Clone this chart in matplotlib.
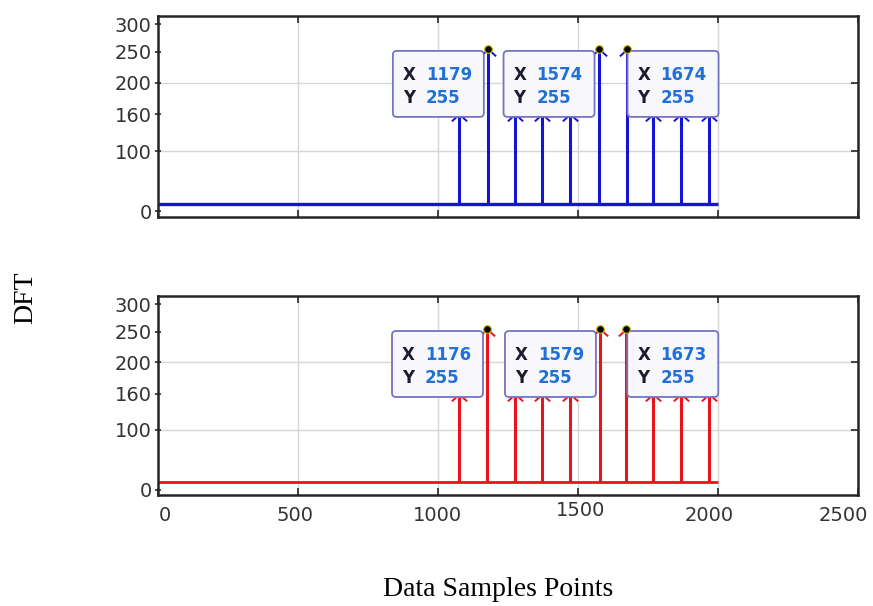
import numpy as np
import matplotlib
matplotlib.use("Agg")
import matplotlib.pyplot as plt
from matplotlib.patches import FancyBboxPatch
from matplotlib.transforms import IdentityTransform, ScaledTranslation

# ---------------- data ----------------
top_x = [1077, 1179, 1276, 1374, 1472, 1574, 1674, 1770, 1868, 1968]
top_y = [160, 255, 160, 160, 160, 255, 255, 160, 160, 160]
bot_x = [1077, 1176, 1276, 1374, 1472, 1579, 1673, 1770, 1868, 1968]
bot_y = [160, 255, 160, 160, 160, 255, 255, 160, 160, 160]
baseline_level = 12
baseline_span = [0, 2000]
top_tips_x = [1179, 1574, 1674]
bot_tips_x = [1176, 1579, 1673]
tips_y = [255, 255, 255]
tip_side = ["left", "left", "right"]
ytick_values = [0, 100, 160, 200, 250, 300]
ytick_labels = ["0", "100", "160", "200", "250", "300"]
grid_y = [100, 200]
xtick_values = [0, 500, 1000, 1500, 2000, 2500]
xtick_labels = ["0", "500", "1000", "1500", "2000", "2500"]

# layout: small pixel nudges of the x tick labels as seen in the figure
xlabel_nudge = [(7, 0), (-3, 0), (0, 0), (3, 5), (-9, 0), (-15, 0)]

# piecewise axis scale (tick labels are unevenly spaced in the figure)
V = [-100, 0, 100, 160, 200, 250, 300, 400]
T = [-54.5, 5.5, 65.5, 102, 133.5, 164.5, 192, 247]
def fwd(v):
    return np.interp(v, V, T)
def inv(t):
    return np.interp(t, T, V)

fig = plt.figure(figsize=(8.73, 6.06), dpi=100)
W, H = 873, 606
ax_top = fig.add_axes([157.5 / W, (H - 217) / H, 700.5 / W, 201.5 / H])
ax_bot = fig.add_axes([157.5 / W, (H - 495) / H, 700.5 / W, 199 / H])

chev = [(-1, -0.9), (0, 0), (1, -0.9)]
spine_col = "#262626"
grid_col = "#d6d6d6"
lab_col = "#333333"

def setup(ax, xs, ys, tips_x, color, show_xlabels, base_lw):
    ax.set_yscale("function", functions=(fwd, inv))
    ax.set_xlim(0, 2500)
    ax.set_ylim(inv(0), inv(200.5))
    # grid
    ax.set_xticks(xtick_values, xtick_labels)
    ax.grid(axis="x", color=grid_col, lw=1.0, zorder=0)
    for g in grid_y:
        ax.axhline(g, color=grid_col, lw=1.0, zorder=0.5)
    ax.set_yticks(ytick_values, ytick_labels)
    ax.grid(axis="y", visible=False)
    # baseline and stems
    ax.hlines(baseline_level, baseline_span[0], baseline_span[1], color=color,
              lw=base_lw, zorder=2)
    ax.vlines(xs, baseline_level, ys, color=color, lw=2.2, zorder=2)
    ax.plot(xs, ys, ls="none", marker=chev, ms=11, mfc="none", mec=color,
            mew=1.4, zorder=2.5)
    # ticks and spines
    ax.tick_params(axis="y", direction="inout", length=5, width=1.2,
                   colors=spine_col, labelcolor=lab_col, labelsize=14, pad=1.8)
    ax.tick_params(axis="x", direction="in", length=5, width=1.2, top=True,
                   colors=spine_col, labelcolor=lab_col, labelsize=14, pad=8,
                   labelbottom=show_xlabels)
    if show_xlabels:
        for lab, (dx, dy) in zip(ax.get_xticklabels(), xlabel_nudge):
            lab.set_transform(lab.get_transform() +
                              ScaledTranslation(dx / 100, dy / 100,
                                                fig.dpi_scale_trans))
    for s in ax.spines.values():
        s.set_linewidth(1.8)
        s.set_color(spine_col)
    axr = ax.twinx()
    axr.set_yscale("function", functions=(fwd, inv))
    axr.set_ylim(inv(0), inv(200.5))
    axr.set_yticks(grid_y)
    axr.tick_params(axis="y", direction="in", length=5, width=1.2,
                    colors=spine_col, labelright=False)
    for s in axr.spines.values():
        s.set_visible(False)
    # peak dots
    ax.plot(tips_x, tips_y, ls="none", marker="o", ms=5.5, mfc="black",
            mec="#c9b200", mew=0.8, zorder=6)

setup(ax_top, top_x, top_y, top_tips_x, "#1414d6", False, 2.4)
setup(ax_bot, bot_x, bot_y, bot_tips_x, "#e8131b", True, 2.0)

def datatips(ax, tips_x):
    for tx, ty, side in zip(tips_x, tips_y, tip_side):
        px, py = ax.transData.transform((tx, ty))
        bw, bh = 91, 66
        if side == "left":
            x0 = px - 95
        else:
            x0 = px + 1
        ytop = py - 2
        box = FancyBboxPatch((x0, ytop - bh), bw, bh,
                             boxstyle="round,pad=0,rounding_size=4",
                             transform=IdentityTransform(),
                             fc="#f8f8fc", ec="#7474c4", lw=1.3, zorder=4)
        ax.add_artist(box)
        for i, (lab, val) in enumerate([("X", str(tx)), ("Y", str(ty))]):
            yy = ytop - 24 - 23 * i
            ax.text(x0 + 10, yy, lab, transform=IdentityTransform(),
                    ha="left", va="center", fontsize=12, fontweight="bold",
                    color="#1c1c30", zorder=5)
            ax.text(x0 + 33, yy, val, transform=IdentityTransform(),
                    ha="left", va="center", fontsize=12, fontweight="bold",
                    color="#2070d8", zorder=5)

datatips(ax_top, top_tips_x)
datatips(ax_bot, bot_tips_x)

fig.text(25.5 / W, 1 - 298 / H, "DFT", rotation=90, ha="center", va="center",
         fontsize=20, family="Liberation Serif", color="black")
fig.text(498 / W, 1 - 590 / H, "Data Samples Points", ha="center", va="center",
         fontsize=20, family="Liberation Serif", color="black")

fig.savefig("out.png", dpi=100)
